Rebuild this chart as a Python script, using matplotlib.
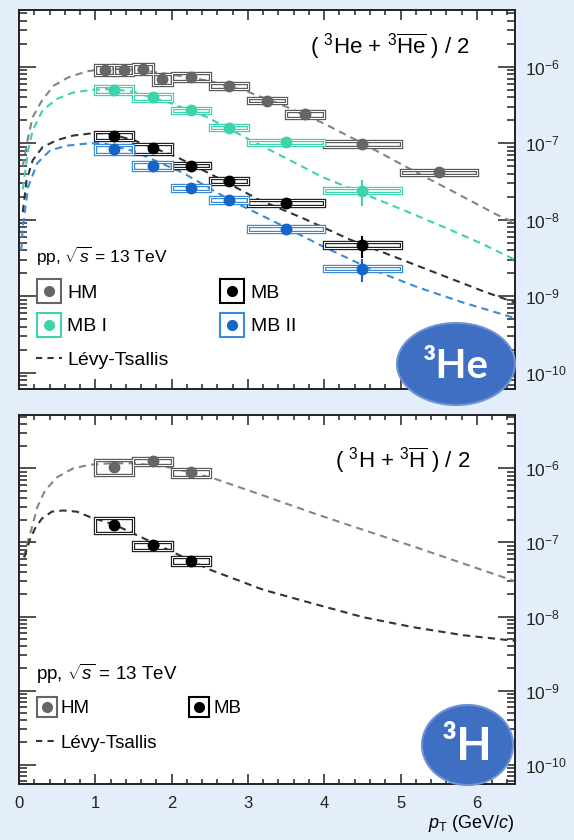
import numpy as np
import matplotlib.pyplot as plt
from matplotlib.patches import Ellipse
from matplotlib.lines import Line2D
from matplotlib.ticker import LogLocator, MultipleLocator, NullFormatter, FixedLocator

plt.rcParams['font.family'] = ['Liberation Sans', 'DejaVu Sans']
plt.rcParams['mathtext.fontset'] = 'custom'
plt.rcParams['mathtext.rm'] = 'Liberation Sans'
plt.rcParams['mathtext.it'] = 'Liberation Sans:italic'
plt.rcParams['mathtext.bf'] = 'Liberation Sans:bold'

# -----------------------------------------------------------------------------
# 3He spectra (pT bin edges, yield, stat error, relative syst error)
# -----------------------------------------------------------------------------
he_hm_lo = [1.0, 1.25, 1.5, 1.75, 2.0, 2.5, 3.0, 3.5, 4.0, 5.0]
he_hm_hi = [1.25, 1.5, 1.75, 2.0, 2.5, 3.0, 3.5, 4.0, 5.0, 6.0]
he_hm_y = [9.1e-7, 9.1e-7, 9.4e-7, 6.9e-7, 7.4e-7, 5.6e-7, 3.6e-7, 2.4e-7, 9.8e-8, 4.2e-8]
he_hm_stat = [2e-8, 2e-8, 2e-8, 2e-8, 1.5e-8, 1.2e-8, 1e-8, 8e-9, 4e-9, 3e-9]
he_hm_sys = [0.15, 0.15, 0.15, 0.16, 0.12, 0.10, 0.08, 0.10, 0.08, 0.08]

he_lo = [1.0, 1.5, 2.0, 2.5, 3.0, 4.0]
he_hi = [1.5, 2.0, 2.5, 3.0, 4.0, 5.0]

he_mb1_y = [5.0e-7, 4.0e-7, 2.7e-7, 1.6e-7, 1.03e-7, 2.4e-8]
he_mb1_stat = [1.5e-8, 1e-8, 7e-9, 5e-9, 4e-9, 9e-9]
he_mb1_sys = [0.12, 0.10, 0.08, 0.08, 0.08, 0.08]

he_mb_y = [1.24e-7, 8.6e-8, 5.1e-8, 3.2e-8, 1.67e-8, 4.7e-9]
he_mb_stat = [4e-9, 3e-9, 2e-9, 1.5e-9, 1e-9, 1.5e-9]
he_mb_sys = [0.12, 0.15, 0.08, 0.09, 0.08, 0.08]

he_mb2_y = [8.3e-8, 5.1e-8, 2.6e-8, 1.8e-8, 7.6e-9, 2.3e-9]
he_mb2_stat = [2.5e-9, 1.8e-9, 1e-9, 8e-10, 5e-10, 7.5e-10]
he_mb2_sys = [0.13, 0.12, 0.09, 0.09, 0.08, 0.08]

# Levy-Tsallis fits
he_hm_fit_pt = [0.05, 0.12, 0.18, 0.30, 0.45, 0.64, 0.89, 1.1, 1.4, 1.7, 2.0, 2.5,
                3.0, 3.5, 4.0, 4.5, 5.2, 5.74, 6.26, 6.5]
he_hm_fit_y = [5.0e-8, 1.2e-7, 2.2e-7, 3.6e-7, 5.6e-7, 7.2e-7, 8.7e-7, 9.3e-7, 9.3e-7,
               8.7e-7, 7.9e-7, 6.5e-7, 4.7e-7, 3.0e-7, 1.8e-7, 1.0e-7, 4.2e-8, 2.2e-8,
               1.17e-8, 9.1e-9]

he_mb1_fit_pt = [0.05, 0.12, 0.18, 0.31, 0.5, 0.71, 0.97, 1.2, 1.5, 2.0, 2.46, 3.03,
                 3.51, 3.98, 4.51, 5.03, 5.56, 6.08, 6.5]
he_mb1_fit_y = [2.5e-8, 8.1e-8, 1.48e-7, 2.7e-7, 3.8e-7, 4.6e-7, 5.0e-7, 5.1e-7, 4.7e-7,
                3.3e-7, 2.2e-7, 1.1e-7, 6.3e-8, 3.6e-8, 2.2e-8, 1.35e-8, 8.1e-9, 4.8e-9,
                3.0e-9]

he_mb_fit_pt = [0.05, 0.10, 0.18, 0.31, 0.5, 0.71, 0.97, 1.15, 1.5, 2.07, 2.59, 3.16,
                3.72, 4.34, 4.95, 5.56, 6.08, 6.5]
he_mb_fit_y = [1.26e-8, 3.3e-8, 6.0e-8, 8.9e-8, 1.1e-7, 1.26e-7, 1.35e-7, 1.35e-7, 1.1e-7,
               6.6e-8, 3.6e-8, 1.8e-8, 1.05e-8, 5.5e-9, 3.2e-9, 1.86e-9, 1.17e-9, 8.3e-10]

he_mb2_fit_pt = [0.03, 0.05, 0.12, 0.24, 0.41, 0.63, 0.93, 1.1, 1.5, 2.15, 2.77, 3.38,
                 3.98, 4.6, 5.22, 5.82, 6.5]
he_mb2_fit_y = [4.0e-9, 8.1e-9, 2.7e-8, 5.5e-8, 8.1e-8, 9.3e-8, 1.0e-7, 1.0e-7, 7.9e-8,
                4.1e-8, 1.8e-8, 9.1e-9, 4.5e-9, 2.3e-9, 1.32e-9, 8.3e-10, 5.2e-10]

# -----------------------------------------------------------------------------
# 3H spectra
# -----------------------------------------------------------------------------
h_lo = [1.0, 1.5, 2.0]
h_hi = [1.5, 2.0, 2.5]
h_hm_y = [1.05e-6, 1.24e-6, 8.8e-7]
h_hm_stat = [3e-8, 3e-8, 2e-8]
h_hm_sys = [0.22, 0.10, 0.13]
h_mb_y = [1.74e-7, 9.1e-8, 5.6e-8]
h_mb_stat = [5e-9, 3e-9, 2e-9]
h_mb_sys = [0.24, 0.12, 0.12]

h_hm_fit_pt = [0.06, 0.12, 0.17, 0.24, 0.34, 0.5, 0.71, 0.93, 1.2, 1.5, 2.0, 2.54, 3.2,
               3.85, 4.51, 5.16, 5.82, 6.5]
h_hm_fit_y = [6.3e-8, 1.07e-7, 1.6e-7, 3.0e-7, 5.0e-7, 7.6e-7, 1.0e-6, 1.12e-6, 1.17e-6,
              1.17e-6, 1.02e-6, 7.4e-7, 4.3e-7, 2.5e-7, 1.48e-7, 8.9e-8, 5.2e-8, 3.0e-8]
h_mb_fit_pt = [0.07, 0.14, 0.21, 0.30, 0.43, 0.58, 0.76, 0.93, 1.25, 1.75, 2.5, 3.2, 3.85,
               4.51, 5.16, 5.82, 6.5]
h_mb_fit_y = [6.3e-8, 1.07e-7, 1.55e-7, 2.1e-7, 2.6e-7, 2.7e-7, 2.6e-7, 2.2e-7, 1.74e-7,
              1.0e-7, 4.3e-8, 2.3e-8, 1.5e-8, 9.8e-9, 7.2e-9, 5.6e-9, 4.7e-9]

y_major = [1e-10, 1e-9, 1e-8, 1e-7, 1e-6]

# colours
c_hm = '#666666'
c_hm_fit = '#858585'
c_mb1 = '#3dd3ac'
c_mb = '#000000'
c_mb_fit = '#333333'
c_mb2 = '#1565c8'
c_mb2_box = '#3a8ad8'
bg = '#e4eefb'

W, H = 574, 840
fig = plt.figure(figsize=(W / 100, H / 100), dpi=100, facecolor=bg)
ax1 = fig.add_axes([19 / W, 1 - 389 / H, 496 / W, 379 / H])
ax2 = fig.add_axes([19 / W, 1 - 784 / H, 496 / W, 369 / H])


def draw_set(ax, lo, hi, y, stat, sys, color, box_color):
    lo = np.array(lo)
    hi = np.array(hi)
    y = np.array(y)
    sys = np.array(sys)
    bottom = y * (1 - sys)
    height = y * (1 + sys) - bottom
    ax.bar(lo, height, width=hi - lo, bottom=bottom, align='edge', fill=False,
           edgecolor=box_color, linewidth=2.4, zorder=3)
    ax.bar(lo, height, width=hi - lo, bottom=bottom, align='edge', fill=False,
           edgecolor='white', linewidth=0.7, zorder=3)
    ax.errorbar((lo + hi) / 2, y, yerr=stat, fmt='o', ms=7.5, color=color,
                elinewidth=1.5, capsize=0, zorder=4)


def draw_fit(ax, pt, y, color):
    ax.plot(pt, y, color=color, lw=1.5, ls=(0, (3.5, 2.5)), zorder=2)


# ---------------------------- top panel: 3He --------------------------------
draw_fit(ax1, he_hm_fit_pt, he_hm_fit_y, c_hm_fit)
draw_fit(ax1, he_mb1_fit_pt, he_mb1_fit_y, c_mb1)
draw_fit(ax1, he_mb_fit_pt, he_mb_fit_y, c_mb_fit)
draw_fit(ax1, he_mb2_fit_pt, he_mb2_fit_y, c_mb2_box)
draw_set(ax1, he_hm_lo, he_hm_hi, he_hm_y, he_hm_stat, he_hm_sys, c_hm, '#5a5a5a')
draw_set(ax1, he_lo, he_hi, he_mb1_y, he_mb1_stat, he_mb1_sys, c_mb1, c_mb1)
draw_set(ax1, he_lo, he_hi, he_mb_y, he_mb_stat, he_mb_sys, c_mb, '#222222')
draw_set(ax1, he_lo, he_hi, he_mb2_y, he_mb2_stat, he_mb2_sys, c_mb2, c_mb2_box)

ax1.text(0.91, 0.905, r"( $^{3}$He + $^{3}\overline{\rm He}$ ) / 2", transform=ax1.transAxes,
         ha='right', va='center', fontsize=16)


def box_handle(color, edge, ms_box=17):
    return (Line2D([], [], ls='none', marker='s', ms=ms_box, mfc='white', mec=edge, mew=1.5),
            Line2D([], [], ls='none', marker='o', ms=7, color=color))


fit_handle = Line2D([], [], color=c_mb_fit, lw=1.5, ls=(0, (3, 2.5)))
handles = [box_handle(c_hm, c_hm), box_handle(c_mb1, c_mb1), fit_handle,
           box_handle(c_mb, c_mb), box_handle(c_mb2, c_mb2_box)]
labels = ['HM', 'MB I', 'Lévy-Tsallis', 'MB', 'MB II']
leg1 = ax1.legend(handles, labels, ncol=2, loc='upper left', bbox_to_anchor=(0.035, 0.38),
                  frameon=False, fontsize=14, title=r"pp, $\sqrt{s}$ = 13 TeV",
                  title_fontsize=12.5, alignment='left', handlelength=1.3,
                  handletextpad=0.3, columnspacing=2.6, labelspacing=0.8,
                  borderpad=0, borderaxespad=0)
leg1._legend_box.sep = 12

# ---------------------------- bottom panel: 3H -------------------------------
draw_fit(ax2, h_hm_fit_pt, h_hm_fit_y, c_hm_fit)
draw_fit(ax2, h_mb_fit_pt, h_mb_fit_y, c_mb_fit)
draw_set(ax2, h_lo, h_hi, h_hm_y, h_hm_stat, h_hm_sys, c_hm, '#5a5a5a')
draw_set(ax2, h_lo, h_hi, h_mb_y, h_mb_stat, h_mb_sys, c_mb, '#222222')

ax2.text(0.91, 0.878, r"( $^{3}$H + $^{3}\overline{\rm H}$ ) / 2", transform=ax2.transAxes,
         ha='right', va='center', fontsize=16)

handles2 = [box_handle(c_hm, c_hm, 15), fit_handle, box_handle(c_mb, c_mb, 15)]
labels2 = ['HM', 'Lévy-Tsallis', 'MB']
leg2 = ax2.legend(handles2, labels2, ncol=2, loc='upper left', bbox_to_anchor=(0.035, 0.33),
                  frameon=False, fontsize=13.5, title=r"pp, $\sqrt{s}$ = 13 TeV",
                  title_fontsize=13.5, alignment='left', handlelength=1.1,
                  handletextpad=0.2, columnspacing=1.7, labelspacing=0.92,
                  borderpad=0, borderaxespad=0)
leg2._legend_box.sep = 10

# ---------------------------- axes styling -----------------------------------
ax1.set_ylim(10 ** -10.21, 10 ** -5.26)
ax2.set_ylim(10 ** -10.26, 10 ** -5.28)
for ax in (ax1, ax2):
    ax.set_facecolor('white')
    ax.set_yscale('log')
    ax.set_xlim(0, 6.5)
    ax.xaxis.set_major_locator(MultipleLocator(1))
    ax.xaxis.set_minor_locator(MultipleLocator(0.2))
    ax.yaxis.set_major_locator(FixedLocator(y_major))
    ax.yaxis.set_minor_locator(LogLocator(base=10, subs=np.arange(2, 10), numticks=20))
    ax.yaxis.set_minor_formatter(NullFormatter())
    ax.tick_params(axis='both', which='both', direction='in', top=True, bottom=True,
                   left=True, right=True, labelleft=False, labelright=True,
                   width=1.1, colors='#222222', labelcolor='#222222')
    ax.tick_params(axis='x', which='major', length=7.5, labelsize=12, pad=9)
    ax.tick_params(axis='x', which='minor', length=3.5)
    ax.tick_params(axis='y', which='major', length=12, labelsize=12.5, pad=7)
    ax.tick_params(axis='y', which='minor', length=5.5)
    for sp in ax.spines.values():
        sp.set_linewidth(1.4)
        sp.set_color('#222222')
ax1.tick_params(labelbottom=False)
ax2.set_xlabel(r"$p_{\rm T}$ (GeV/$c$)", loc='right', fontsize=13, labelpad=1)

# ---------------------------- badges -----------------------------------------
fig.add_artist(Ellipse((456 / W, 1 - 364 / H), 118 / W, 82 / H, transform=fig.transFigure,
                       facecolor='#3e6fc2', edgecolor='#6f93d2', lw=1.5, zorder=10))
fig.text(456 / W, 1 - 366 / H, "³He", ha='center', va='center', color='white',
         fontsize=29, fontfamily='Lato', fontweight='bold', zorder=11)
fig.add_artist(Ellipse((467.5 / W, 1 - 745 / H), 91 / W, 80 / H, transform=fig.transFigure,
                       facecolor='#3e6fc2', edgecolor='#6f93d2', lw=1.5, zorder=10))
fig.text(467.5 / W, 1 - 747 / H, "³H", ha='center', va='center', color='white',
         fontsize=33, fontfamily='Lato', fontweight='bold', zorder=11)

fig.savefig('out.png', dpi=100, facecolor=bg)
